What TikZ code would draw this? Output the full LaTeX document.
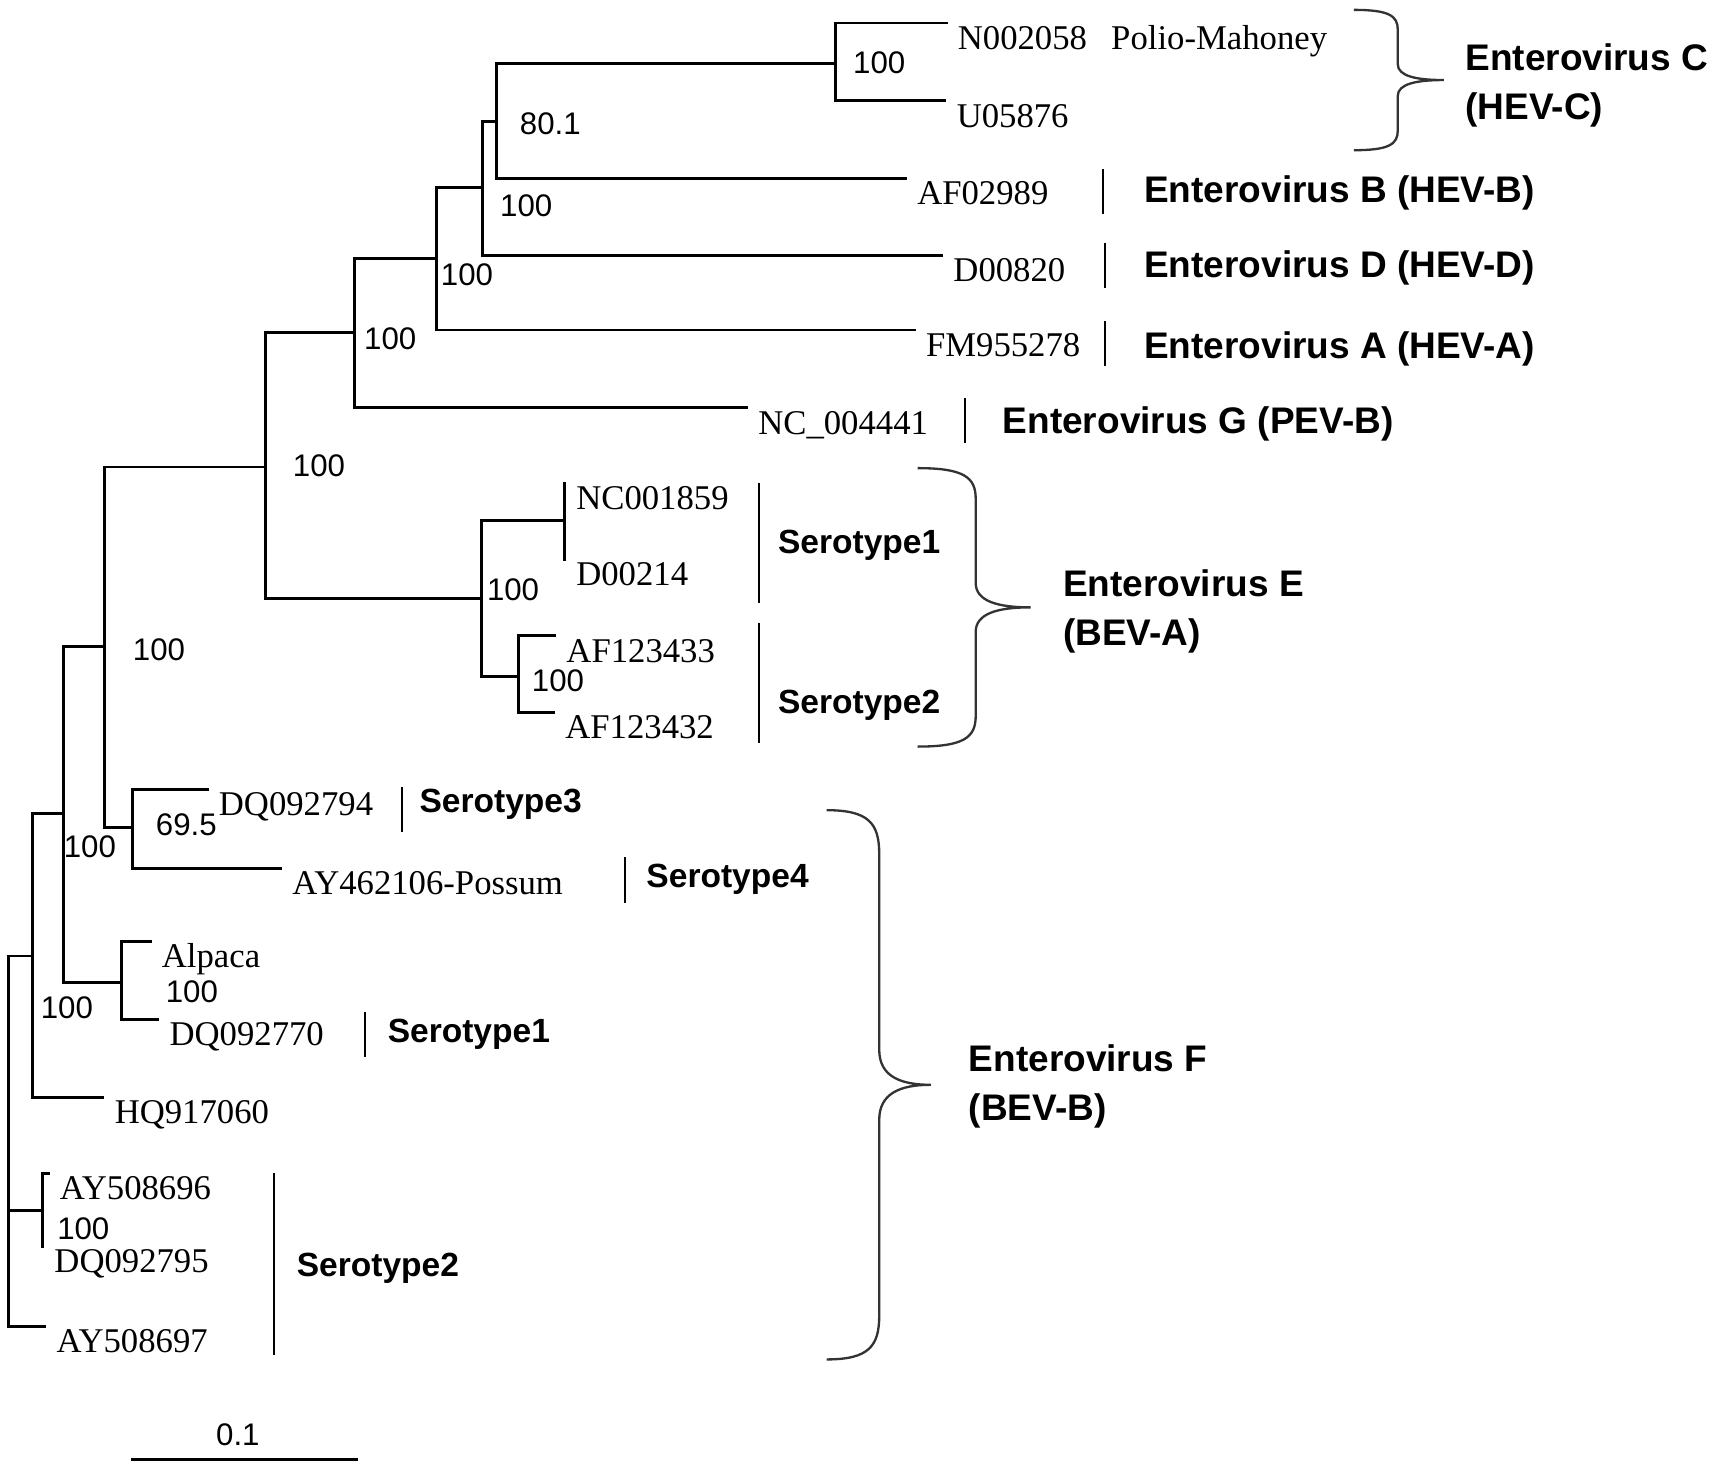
\documentclass[tikz,border=0pt]{standalone}
\usepackage{fontspec}
\setmainfont{Liberation Serif}
\setsansfont{Liberation Sans}
\usetikzlibrary{positioning}

% curly brace: x-end, x-spine, x-tip, y-top, y-bottom, curl size
\newcommand{\cladebrace}[6]{%
  \draw[brace] (#1,#4) .. controls ({#1+0.8*(#2-#1)},#4) and (#2,{#4+0.3*#6}) .. (#2,{#4+#6})
    -- (#2,{(#4+#5)/2-0.8*#6}) .. controls (#2,{(#4+#5)/2-0.2*#6}) and ({#2+0.4*(#3-#2)},{(#4+#5)/2}) .. (#3,{(#4+#5)/2})
    .. controls ({#2+0.4*(#3-#2)},{(#4+#5)/2}) and (#2,{(#4+#5)/2+0.2*#6}) .. (#2,{(#4+#5)/2+0.8*#6})
    -- (#2,{#5-#6}) .. controls (#2,{#5-0.3*#6}) and ({#1+0.8*(#2-#1)},#5) .. (#1,#5);}

\begin{document}
\begin{tikzpicture}[x=0.01cm, y=-0.01cm,
  branch/.style={line width=0.75pt, line cap=rect},
  bar/.style={line width=0.5pt},
  brace/.style={line width=0.6pt, black!80},
  tip/.style={anchor=north west, inner xsep=0.1cm, inner ysep=0pt, text height=0.66em, text depth=0pt, font=\fontsize{9}{10.8}\selectfont},
  boot/.style={inner sep=0pt, font=\sffamily\fontsize{8.1}{9.7}\selectfont},
  grp/.style={anchor=west, align=left, inner sep=0pt, font=\sffamily\bfseries\fontsize{9.6}{12.8}\selectfont},
  sero/.style={anchor=west, inner sep=0pt, font=\sffamily\bfseries\fontsize{8.7}{10.4}\selectfont}]
\useasboundingbox (0,0) rectangle (1568,1341);

% internal nodes
\coordinate (nC) at (762,58);
\coordinate (nCB) at (453,111);
\coordinate (nCBD) at (440,171);
\coordinate (nCBDA) at (398,236);
\coordinate (nHEV) at (323,303);
\coordinate (nEnt) at (242,426);
\coordinate (nBEVA) at (439,546);
\coordinate (nEs1) at (515,475);
\coordinate (nEs2) at (473,617);
\coordinate (nEnt2) at (95,590);
\coordinate (nS34) at (121,755);
\coordinate (nF1) at (58,742);
\coordinate (nAlp) at (111,896);
\coordinate (nF2) at (30,872);
\coordinate (root) at (8,1041);
\coordinate (nS2) at (39,1104);

% tips
\node[tip] (polio) at (863,21) {N002058\hspace{0.45em} Polio-Mahoney};
\node[tip] (u05876) at (862,92) {U05876};
\node[tip] (af02989) at (826,163) {AF02989};
\node[tip] (d00820) at (859,233) {D00820};
\node[tip] (fm955278) at (834,301) {FM955278};
\node[tip] (nc004441) at (681,372) {NC\_004441};
\node[tip] (nc001859) at (515,441) {NC001859};
\node[tip] (d00214) at (515,510) {D00214};
\node[tip] (af123433) at (506,580) {AF123433};
\node[tip] (af123432) at (505,650) {AF123432};
\node[tip] (dq092794) at (189,720) {DQ092794};
\node[tip] (ay462106) at (256,792) {AY462106-Possum};
\node[tip] (alpaca) at (137,859) {Alpaca};
\node[tip] (dq092770) at (144,930) {DQ092770};
\node[tip] (hq917060) at (94,1001) {HQ917060};
\node[tip] (ay508696) at (44,1070) {AY508696};
\node[tip] (dq092795) at (39,1137) {DQ092795};
\node[tip] (ay508697) at (41,1210) {AY508697};

% branches
\foreach \a/\b in {nC/polio.north west, nC/u05876.north west,
    nCB/nC, nCB/af02989.north west, nCBD/nCB, nCBD/d00820.north west,
    nCBDA/nCBD, nCBDA/fm955278.north west, nHEV/nCBDA, nHEV/nc004441.north west,
    nEnt/nHEV, nEnt/nBEVA, nBEVA/nEs1, nBEVA/nEs2,
    nEs1/nc001859.north west, nEs1/d00214.north west,
    nEs2/af123433.north west, nEs2/af123432.north west,
    nEnt2/nEnt, nEnt2/nS34, nS34/dq092794.north west, nS34/ay462106.north west,
    nF1/nEnt2, nF1/nAlp, nAlp/alpaca.north west, nAlp/dq092770.north west,
    nF2/nF1, nF2/hq917060.north west, root/nF2, root/nS2, root/ay508697.north west,
    nS2/ay508696.north west, nS2/dq092795.north west}
  \draw[branch] (\a) |- (\b);

% bootstrap values
\node[boot] (bC) at (802,57) {100};
\node[boot] (bCB) at (502,113) {80.1};
\node[boot] (bCBD) at (480,188) {100};
\node[boot] (bCBDA) at (426,251) {100};
\node[boot] (bHEV) at (356,309) {100};
\node[boot] (bEnt) at (291,425) {100};
\node[boot] (bBEVA) at (468,538) {100};
\node[boot] (bEs2) at (509,621) {100};
\node[boot] (bEnt2) at (145,593) {100};
\node[boot] (bS34) at (170,752) {69.5};
\node[boot] (bF1) at (82,772) {100};
\node[boot] (bAlp) at (175,905) {100};
\node[boot] (bF2) at (61,919) {100};
\node[boot] (bS2) at (76,1121) {100};

% group bars
\draw[bar] (1006,154) -- (1006,195);
\draw[bar] (1008,222) -- (1008,263);
\draw[bar] (1008,293) -- (1008,334);
\draw[bar] (880,363) -- (880,404);
\draw[bar] (692,441) -- (692,550);
\draw[bar] (692,568) -- (692,678);
\draw[bar] (367,718) -- (367,759);
\draw[bar] (570,782) -- (570,824);
\draw[bar] (333,923) -- (333,964);
\draw[bar] (250,1070) -- (250,1236);

% group labels
\node[grp] (lB) at (1043,176) {Enterovirus B (HEV-B)};
\node[grp] (lD) at (1043,244) {Enterovirus D (HEV-D)};
\node[grp] (lA) at (1043,318) {Enterovirus A (HEV-A)};
\node[grp] (lG) at (914,387) {Enterovirus G (PEV-B)};
\node[grp] (lC) at (1336,78) {Enterovirus C\\(HEV-C)};
\node[grp] (lE) at (969,558) {Enterovirus E\\(BEV-A)};
\node[grp] (lF) at (883,991) {Enterovirus F\\(BEV-B)};

\node[sero] (sE1) at (709,497) {Serotype1};
\node[sero] (sE2) at (709,643) {Serotype2};
\node[sero] (s3) at (382,734) {Serotype3};
\node[sero] (s4) at (589,802) {Serotype4};
\node[sero] (sF1) at (353,943) {Serotype1};
\node[sero] (sF2) at (270,1157) {Serotype2};

% braces
\cladebrace{1235}{1275}{1317}{9}{137}{18}
\cladebrace{837}{890}{940}{427}{681}{28}
\cladebrace{754}{802}{849}{739}{1240}{40}

% scale bar
\draw[branch] (121,1331) -- (325,1331);
\node[boot] (scale) at (217,1309) {0.1};
\end{tikzpicture}
\end{document}
